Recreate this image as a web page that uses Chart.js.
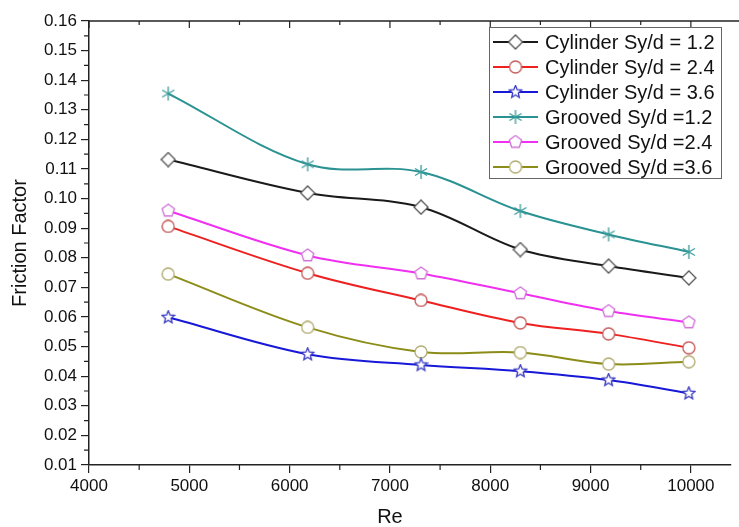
<!DOCTYPE html>
<html>
<head>
<meta charset="utf-8">
<script src="https://cdn.jsdelivr.net/npm/chart.js@4.4.1/dist/chart.umd.min.js"></script>
<style>
  html, body { margin: 0; padding: 0; background: #fff; overflow: hidden; }
  #wrap { width: 739px; height: 527px; }
</style>
</head>
<body>
<div id="wrap"><canvas id="chart" width="739" height="527"></canvas></div>
<script>
// Data
const reValues = [4790, 6180, 7310, 8300, 9180, 9980];
const cyl12 = [0.1132, 0.1019, 0.0971, 0.0828, 0.0772, 0.0732];
const cyl24 = [0.0906, 0.0748, 0.0656, 0.0580, 0.0543, 0.0496];
const cyl36 = [0.0599, 0.0474, 0.0438, 0.0417, 0.0387, 0.0342];
const grv12 = [0.1355, 0.1116, 0.1090, 0.0958, 0.0879, 0.0820];
const grv24 = [0.0959, 0.0808, 0.0747, 0.0680, 0.0620, 0.0582];
const grv36 = [0.0745, 0.0565, 0.0482, 0.0480, 0.0441, 0.0449];

const seriesLabels = ['Cylinder Sy/d = 1.2', 'Cylinder Sy/d = 2.4', 'Cylinder Sy/d = 3.6',
                      'Grooved Sy/d =1.2', 'Grooved Sy/d =2.4', 'Grooved Sy/d =3.6'];
const xTicks = [4000, 5000, 6000, 7000, 8000, 9000, 10000];
const yTicks = [0.01, 0.02, 0.03, 0.04, 0.05, 0.06, 0.07, 0.08, 0.09, 0.10,
                0.11, 0.12, 0.13, 0.14, 0.15, 0.16];

const FONT = '"Liberation Sans", Arial, sans-serif';
const AXIS = '#222';

// Build an open marker as a small canvas so it can be used as pointStyle
function makeMarker(shape, color, size) {
    const c = document.createElement('canvas');
    c.width = c.height = size;
    const g = c.getContext('2d');
    g.translate(size / 2, size / 2);
    g.strokeStyle = color;
    g.fillStyle = '#fff';
    g.lineWidth = 1.3;
    const r = size / 2 - 1;
    g.beginPath();
    if (shape === 'diamond') {
        g.moveTo(0, -r); g.lineTo(r, 0); g.lineTo(0, r); g.lineTo(-r, 0); g.closePath();
    } else if (shape === 'circle') {
        g.arc(0, 0, r, 0, Math.PI * 2);
    } else if (shape === 'pentagon') {
        for (let k = 0; k < 5; k++) {
            const a = -Math.PI / 2 + k * 2 * Math.PI / 5;
            const px = r * Math.cos(a), py = r * Math.sin(a);
            k === 0 ? g.moveTo(px, py) : g.lineTo(px, py);
        }
        g.closePath();
    } else if (shape === 'star') {
        for (let k = 0; k < 10; k++) {
            const a = -Math.PI / 2 + k * Math.PI / 5;
            const rr = k % 2 === 0 ? r : r * 0.45;
            const px = rr * Math.cos(a), py = rr * Math.sin(a);
            k === 0 ? g.moveTo(px, py) : g.lineTo(px, py);
        }
        g.closePath();
    }
    if (shape === 'asterisk') {
        for (const deg of [90, 30, 150]) {
            const a = deg * Math.PI / 180;
            g.moveTo(-r * Math.cos(a), -r * Math.sin(a));
            g.lineTo(r * Math.cos(a), r * Math.sin(a));
        }
        g.stroke();
    } else {
        g.fill();
        g.stroke();
    }
    return c;
}

const lineColors = ['#1a1a1a', '#ee2020', '#1818d8', '#2a9292', '#f030f0', '#8c8c18'];
const markers = [
    makeMarker('diamond', '#555555', 16),
    makeMarker('circle', '#c45a5a', 14),
    makeMarker('star', '#3838c0', 15),
    makeMarker('asterisk', '#3a9a9a', 16),
    makeMarker('pentagon', '#d070d8', 15),
    makeMarker('circle', '#b2ac72', 14)
];
const seriesValues = [cyl12, cyl24, cyl36, grv12, grv24, grv36];

const datasets = seriesValues.map((vals, i) => ({
    label: seriesLabels[i],
    data: vals.map((v, j) => ({ x: reValues[j], y: v })),
    borderColor: lineColors[i],
    borderWidth: 2,
    tension: 0.35,
    pointStyle: markers[i],
    pointRadius: 6,
    fill: false
}));

// Minor ticks, top frame line, axis titles and the boxed legend
const decorPlugin = {
    id: 'decor',
    afterDraw(chart) {
        const ctx = chart.ctx;
        const xs = chart.scales.x, ys = chart.scales.y;
        const { left, right, top, bottom } = chart.chartArea;
        ctx.save();
        ctx.strokeStyle = AXIS;
        ctx.lineWidth = 1.5;
        ctx.beginPath();
        ctx.moveTo(left, top); ctx.lineTo(chart.width, top);
        ctx.stroke();

        ctx.lineWidth = 1.2;
        ctx.beginPath();
        for (let v = 4000; v <= 10400; v += 500) {
            const px = xs.getPixelForValue(v);
            const major = v % 1000 === 0;
            if (!major) { ctx.moveTo(px, bottom); ctx.lineTo(px, bottom + 5); }
            ctx.moveTo(px, top); ctx.lineTo(px, top + (major ? 7 : 4));
        }
        for (let k = 1; k < 30; k += 2) {
            const py = ys.getPixelForValue(0.01 + k * 0.005);
            ctx.moveTo(left - 5, py); ctx.lineTo(left, py);
        }
        ctx.stroke();

        // axis titles
        ctx.fillStyle = '#111';
        ctx.font = '20px ' + FONT;
        ctx.textAlign = 'center';
        ctx.textBaseline = 'middle';
        const cx = (xs.getPixelForValue(4000) + xs.getPixelForValue(10000)) / 2;
        ctx.fillText('Re', cx, 517);
        ctx.save();
        ctx.translate(20, (top + bottom) / 2);
        ctx.rotate(-Math.PI / 2);
        ctx.fillText('Friction Factor', 0, 0);
        ctx.restore();

        // legend box
        const bx = 489, by = 27, bw = 232, bh = 151;
        ctx.fillStyle = '#fff';
        ctx.fillRect(bx, by, bw, bh);
        ctx.strokeStyle = '#666';
        ctx.lineWidth = 1;
        ctx.strokeRect(bx + 0.5, by + 0.5, bw, bh);
        ctx.font = '20px ' + FONT;
        ctx.textAlign = 'left';
        chart.data.datasets.forEach((ds, i) => {
            const ry = 42 + i * 25;
            ctx.strokeStyle = ds.borderColor;
            ctx.lineWidth = 2;
            ctx.beginPath();
            ctx.moveTo(493, ry); ctx.lineTo(538, ry);
            ctx.stroke();
            const m = ds.pointStyle;
            ctx.drawImage(m, 515.5 - m.width / 2, ry - m.height / 2);
            ctx.fillStyle = '#111';
            ctx.fillText(ds.label, 545, ry + 1);
        });
        ctx.restore();
    }
};

new Chart(document.getElementById('chart'), {
    type: 'line',
    data: { datasets: datasets },
    options: {
        responsive: false,
        animation: false,
        layout: { padding: { top: 21, right: 1, left: 0, bottom: 0 } },
        plugins: {
            legend: { display: false },
            tooltip: { enabled: false }
        },
        scales: {
            x: {
                type: 'linear',
                min: 4000,
                max: 10400,
                afterBuildTicks: (scale) => { scale.ticks = xTicks.map(v => ({ value: v })); },
                afterFit: (scale) => { scale.height = 62; },
                ticks: {
                    font: { size: 17, family: FONT },
                    color: '#111',
                    padding: 3,
                    maxRotation: 0,
                    callback: (v) => String(v)
                },
                grid: { drawOnChartArea: false, tickLength: 8, color: AXIS, lineWidth: 1.2 },
                border: { color: AXIS, width: 1.5 }
            },
            y: {
                min: 0.01,
                max: 0.16,
                afterBuildTicks: (scale) => { scale.ticks = yTicks.map(v => ({ value: v })); },
                afterFit: (scale) => { scale.width = 89; },
                ticks: {
                    font: { size: 17, family: FONT },
                    color: '#111',
                    padding: 4,
                    callback: (v) => v.toFixed(2)
                },
                grid: { drawOnChartArea: false, tickLength: 8, color: AXIS, lineWidth: 1.2 },
                border: { color: AXIS, width: 1.5 }
            }
        }
    },
    plugins: [decorPlugin]
});
</script>
</body>
</html>
